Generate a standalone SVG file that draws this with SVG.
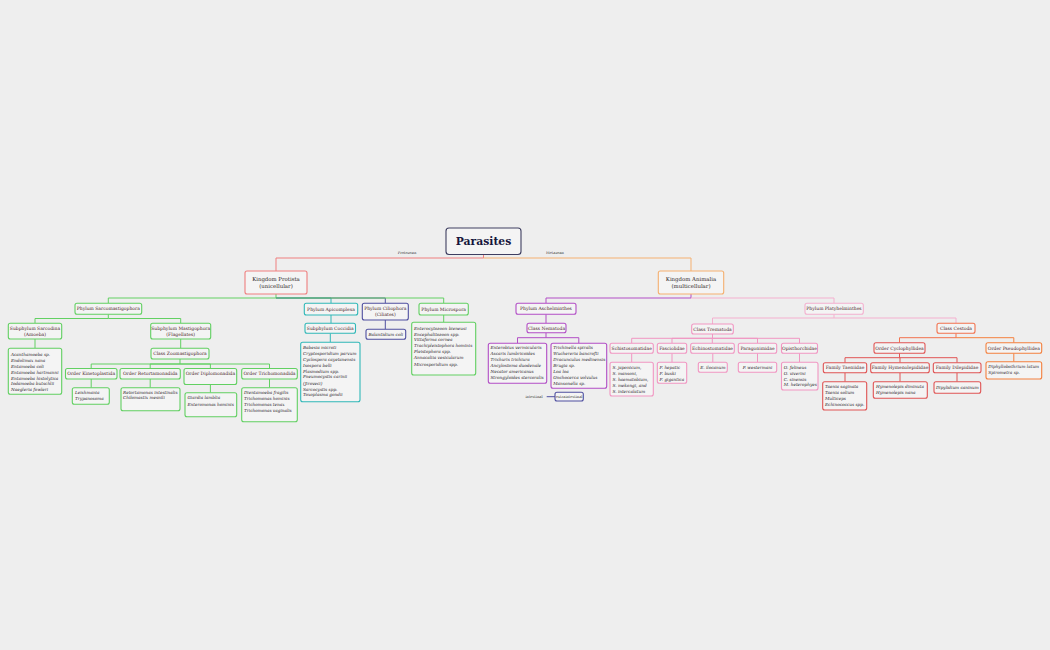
<svg xmlns="http://www.w3.org/2000/svg" width="1050" height="650" viewBox="0 0 1050 650">
<style>
.bx{fill:#f4f4f4;stroke-width:1.1}
.c{fill:none;stroke-width:1}
.red{stroke:#ef7f7f}.org{stroke:#f5b070}.grn{stroke:#62d062}.tea{stroke:#30b8b8}.nav{stroke:#4f4fa0}
.pur{stroke:#b24ec6}.lpk{stroke:#f4b0cf}.pnk{stroke:#f196c2}.ces{stroke:#f2724e}.cyc{stroke:#e05454}.pse{stroke:#f4803e}
text{font-family:"DejaVu Serif","Liberation Serif",serif}
.t{font-size:4.5px;fill:#4a1f2a;text-anchor:middle}
.k{font-size:5.4px;fill:#2e2626;text-anchor:middle}
.i{font-size:4.2px;fill:#2a1c2a;font-style:italic}
.ic{font-size:4.2px;fill:#2a1c2a;font-style:italic;text-anchor:middle}
.e{font-size:3.6px;fill:#333;text-anchor:middle}
</style>
<rect width="1050" height="650" fill="#eeeeee"/>
<g id="connectors">
<path class="c red" d="M483.5 254.5V258H276V271"/>
<path class="c org" d="M483.5 258H691V271"/>
<path class="c grn" d="M276 294V298H108.3V303.3"/>
<path class="c tea" d="M276 298H331V303.3"/>
<path class="c nav" d="M276 298H385.3V303.3"/>
<path class="c grn" d="M276 298H443.7V303.3"/>
<path class="c grn" d="M108.3 314.3V318.5H35V323.3M108.3 318.5H180.7V323.3"/>
<path class="c grn" d="M35 339V348.3"/>
<path class="c grn" d="M180.7 339V348.3"/>
<path class="c grn" d="M180 359V364H91.2V368.5M180 364H150.2V368.5M180 364H210.4V368.5M180 364H269.5V368.5"/>
<path class="c grn" d="M91.2 379V387.7M150.2 379V387.7M210.4 384.5V392.7M269.5 379V387.7"/>
<path class="c tea" d="M331 315V323.3M330.3 333.3V342.3"/>
<path class="c nav" d="M385.3 320V329.3"/>
<path class="c grn" d="M443.7 315V322.3"/>
<path class="c pur" d="M691 294V298H546V303.3"/>
<path class="c lpk" d="M691 298H834V303.3"/>
<path class="c pur" d="M546 314.3V323.3M546 332.8V337.7H517.5V343.3M546 337.7H578.8V343.3"/>
<path class="c lpk" d="M834 314.3V318H712.5V324M834 318H956V323.3"/>
<path class="c pnk" d="M712.5 334V338.3H631.7V343.3M712.5 338.3H672V343.3M712.5 338.3H712.3V343.3M712.5 338.3H757.5V343.3M712.5 338.3H799.5V343.3"/>
<path class="c pnk" d="M631.7 353.3V362.3M672 353.3V362.3M712.8 353.3V362.3M757.5 353.3V362.3M799.5 353.3V362.3"/>
<path class="c ces" d="M956 333.3V337.7H899.5V342.7"/>
<path class="c pse" d="M956 337.7H1013.8V342.7M1013.8 353.3V361.7"/>
<path class="c cyc" d="M899.5 353.3V357.7H845V362.7M899.5 357.7H900V362.7M899.5 357.7H957V362.7"/>
<path class="c cyc" d="M845 372.7V381.7M900 372.7V381.7M957 372.7V381.7"/>
<path class="c nav" d="M546.7 396.7H555"/>
</g>
<g id="root"><rect class="bx" x="446" y="228" width="75" height="26.5" rx="3" stroke="#3e3e60" stroke-width="1.2"/><text x="483.5" y="244.7" text-anchor="middle" font-size="10.8" font-weight="bold" fill="#16163c" style="font-family:'DejaVu Serif',serif">Parasites</text></g>
<g id="lbl-protozoan"><text class="e" x="407" y="254.2">Protozoan</text></g>
<g id="lbl-metazoan"><text class="e" x="555" y="254.2">Metazoan</text></g>
<g id="kingdom-protista"><rect class="bx red" x="245" y="271" width="62" height="23" rx="2"/><text class="k" x="276" y="280.5">Kingdom Protista</text><text class="k" x="276" y="288">(unicellular)</text></g>
<g id="kingdom-animalia"><rect class="bx org" x="658.3" y="271" width="65.4" height="23" rx="2"/><text class="k" x="691" y="280.5">Kingdom Animalia</text><text class="k" x="691" y="288">(multicellular)</text></g>
<g id="ph-sarco"><rect class="bx grn" x="75" y="303.3" width="66.7" height="11" rx="2"/><text class="t" x="108.3" y="310.4">Phylum Sarcomastigophora</text></g>
<g id="ph-apic"><rect class="bx tea" x="304.3" y="303.3" width="53.4" height="11.7" rx="2"/><text class="t" x="331" y="310.7">Phylum Apicomplexa</text></g>
<g id="ph-cilio"><rect class="bx nav" x="362.3" y="303.3" width="46" height="16.7" rx="2"/><text class="t" x="385.3" y="310.1">Phylum Ciliophora</text><text class="t" x="385.3" y="316.1">(Ciliates)</text></g>
<g id="ph-micro"><rect class="bx grn" x="419" y="303.3" width="49.3" height="11.7" rx="2"/><text class="t" x="443.7" y="310.7">Phylum Microspora</text></g>
<g id="ph-asch"><rect class="bx pur" x="516" y="303.3" width="60" height="11" rx="2"/><text class="t" x="546" y="310.4">Phylum Aschelminthes</text></g>
<g id="ph-platy"><rect class="bx lpk" x="805" y="303.3" width="58.3" height="11" rx="2"/><text class="t" x="834" y="310.4">Phylum Platyhelminthes</text></g>
<g id="sub-sarcodina"><rect class="bx grn" x="8.3" y="323.3" width="53.4" height="15.7" rx="2"/><text class="t" x="35" y="330.1">Subphylum Sarcodina</text><text class="t" x="35" y="336.1">(Amoeba)</text></g>
<g id="sub-mastig"><rect class="bx grn" x="150.7" y="323.3" width="60" height="15.7" rx="2"/><text class="t" x="180.7" y="330.1">Subphylum Mastigophora</text><text class="t" x="180.7" y="336.1">(Flagellates)</text></g>
<g id="sarcodina-list"><rect class="bx grn" x="8.3" y="348.3" width="53.4" height="46" rx="2"/><text class="i"><tspan x="11" y="355.8">Acanthamoeba sp.</tspan><tspan x="11" y="361.8">Endolimax nana</tspan><tspan x="11" y="367.8">Entamoeba coli</tspan><tspan x="11" y="373.8">Entamoeba hartmanni</tspan><tspan x="11" y="379.6">Entamoeba histolytica</tspan><tspan x="11" y="385.3">Iodamoeba butschlii</tspan><tspan x="11" y="391.2">Naegleria fowleri</tspan></text></g>
<g id="cl-zoomast"><rect class="bx grn" x="151" y="348.3" width="58" height="10.7" rx="2"/><text class="t" x="180" y="355.2">Class Zoomastigophora</text></g>
<g id="or-kineto"><rect class="bx grn" x="65.5" y="368.5" width="51.5" height="10.5" rx="2"/><text class="t" x="91.2" y="375.3">Order Kinetoplastida</text></g>
<g id="or-retort"><rect class="bx grn" x="120" y="368.5" width="60.3" height="10.5" rx="2"/><text class="t" x="150.2" y="375.3">Order Retortamonadida</text></g>
<g id="or-diplo"><rect class="bx grn" x="184" y="368.5" width="52.7" height="16" rx="2"/><text class="t" x="210.4" y="375.1">Order Diplomonadida</text></g>
<g id="or-tricho"><rect class="bx grn" x="241.7" y="368.5" width="55.6" height="10.5" rx="2"/><text class="t" x="269.5" y="375.3">Order Trichomonadida</text></g>
<g id="kineto-list"><rect class="bx grn" x="72.3" y="387.7" width="37" height="16.6" rx="2"/><text class="i"><tspan x="75" y="394.2">Leishmania</tspan><tspan x="75" y="399.8">Trypanosoma</tspan></text></g>
<g id="retort-list"><rect class="bx grn" x="121" y="387.7" width="59" height="23" rx="2"/><text class="i"><tspan x="123" y="393.8">Retortamonas intestinalis</tspan><tspan x="123" y="399.2">Chilomastix mesnili</tspan></text></g>
<g id="diplo-list"><rect class="bx grn" x="185" y="392.7" width="51.7" height="24" rx="2"/><text class="i"><tspan x="187.5" y="399.2">Giardia lamblia</tspan><tspan x="187.5" y="405.5">Enteromonas hominis</tspan></text></g>
<g id="tricho-list"><rect class="bx grn" x="241.7" y="387.7" width="55.6" height="34" rx="2"/><text class="i"><tspan x="244" y="394.2">Dientamoeba fragilis</tspan><tspan x="244" y="400.2">Trichomonas hominis</tspan><tspan x="244" y="405.8">Trichomonas tenax</tspan><tspan x="244" y="411.8">Trichomonas vaginalis</tspan></text></g>
<g id="sub-coccidia"><rect class="bx tea" x="305" y="323.3" width="50.5" height="10" rx="2"/><text class="t" x="330.3" y="329.9">Subphylum Coccidia</text></g>
<g id="coccidia-list"><rect class="bx tea" x="300.7" y="342.3" width="59.3" height="59.4" rx="2"/><text class="i"><tspan x="303" y="348.8">Babesia microti</tspan><tspan x="303" y="355.2">Cryptosporidium parvum</tspan><tspan x="303" y="361.2">Cyclospora cayetanensis</tspan><tspan x="303" y="367.2">Isospora belli</tspan><tspan x="303" y="372.8">Plasmodium spp.</tspan><tspan x="303" y="378.2">Pneumocystis carinii</tspan><tspan x="303" y="384.8">(Jiroveci)</tspan><tspan x="303" y="390.5">Sarcocystis spp.</tspan><tspan x="303" y="396.2">Toxoplasma gondii</tspan></text></g>
<g id="balantidium"><rect class="bx nav" x="366" y="329.3" width="39.7" height="10" rx="2"/><text class="ic" x="385.8" y="335.8">Balantidium coli</text></g>
<g id="microspora-list"><rect class="bx grn" x="411.7" y="322.3" width="64" height="52.7" rx="2"/><text class="i"><tspan x="414" y="329.8">Enterocytozoon bieneusi</tspan><tspan x="414" y="335.8">Encephalitozoon spp.</tspan><tspan x="414" y="341.2">Vittaforma cornea</tspan><tspan x="414" y="347.2">Trachipleistophora hominis</tspan><tspan x="414" y="353.2">Pleistophora spp.</tspan><tspan x="414" y="359.2">Annacaliia vesicularum</tspan><tspan x="414" y="365.5">Microsporidium spp.</tspan></text></g>
<g id="cl-nematoda"><rect class="bx pur" x="527" y="323.3" width="39" height="9.5" rx="2"/><text class="t" x="546.5" y="329.6">Class Nematoda</text></g>
<g id="nematoda-intestinal"><rect class="bx pur" x="488.3" y="343.3" width="58.4" height="40" rx="2"/><text class="i"><tspan x="490.5" y="349.2">Enterobius vermicularis</tspan><tspan x="490.5" y="355.2">Ascaris lumbricoides</tspan><tspan x="490.5" y="361.2">Trichuris trichiura</tspan><tspan x="490.5" y="367.2">Ancylostoma duodenale</tspan><tspan x="490.5" y="372.8">Necator americanus</tspan><tspan x="490.5" y="378.5">Strongyloides stercoralis</tspan></text></g>
<g id="nematoda-extra"><rect class="bx pur" x="551" y="343.3" width="55.7" height="45" rx="2"/><text class="i"><tspan x="553.3" y="349.2">Trichinella spiralis</tspan><tspan x="553.3" y="355.2">Wuchereria bancrofti</tspan><tspan x="553.3" y="361.2">Dracunculus medinensis</tspan><tspan x="553.3" y="367.2">Brugia sp.</tspan><tspan x="553.3" y="372.8">Loa loa</tspan><tspan x="553.3" y="378.5">Onchocerca volvulus</tspan><tspan x="553.3" y="384.5">Mansonella sp.</tspan></text></g>
<g id="legend-intestinal"><text class="e" x="534" y="398">intestinal</text></g>
<g id="legend-extra"><rect class="bx nav" x="555" y="392.3" width="28.3" height="8.7" rx="2"/><text class="e" x="569.2" y="398">extraintestinal</text></g>
<g id="cl-trematoda"><rect class="bx pnk" x="691.7" y="324" width="41.6" height="10" rx="2"/><text class="t" x="712.5" y="330.6">Class Trematoda</text></g>
<g id="schisto"><rect class="bx pnk" x="610" y="343.3" width="43.3" height="10" rx="2"/><text class="t" x="631.7" y="349.9">Schistosomatidae</text></g>
<g id="fasciol"><rect class="bx pnk" x="657.3" y="343.3" width="29.4" height="10" rx="2"/><text class="t" x="672" y="349.9">Fasciolidae</text></g>
<g id="echino"><rect class="bx pnk" x="690.7" y="343.3" width="43.6" height="10" rx="2"/><text class="t" x="712.5" y="349.9">Echinostomatidae</text></g>
<g id="parago"><rect class="bx pnk" x="738.3" y="343.3" width="38.4" height="10" rx="2"/><text class="t" x="757.5" y="349.9">Paragonimidae</text></g>
<g id="opist"><rect class="bx pnk" x="781.5" y="343.3" width="36" height="10" rx="2"/><text class="t" x="799.5" y="349.9">Opisthorchidae</text></g>
<g id="schisto-list"><rect class="bx pnk" x="610" y="362.3" width="43.3" height="33.7" rx="2"/><text class="i"><tspan x="612.5" y="369.2">S. japonicum,</tspan><tspan x="612.5" y="375.2">S. mansoni,</tspan><tspan x="612.5" y="380.8">S. haematobium,</tspan><tspan x="612.5" y="386.8">S. mekongi, and</tspan><tspan x="612.5" y="392.8">S. intercalatum</tspan></text></g>
<g id="fasciol-list"><rect class="bx pnk" x="657.3" y="362.3" width="29.4" height="21" rx="2"/><text class="i"><tspan x="659.5" y="369.2">F. hepatic</tspan><tspan x="659.5" y="375">F. buski</tspan><tspan x="659.5" y="380.8">F. gigantica</tspan></text></g>
<g id="echino-list"><rect class="bx pnk" x="698.3" y="362.3" width="29" height="10" rx="2"/><text class="ic" x="712.8" y="368.8">E. ilocanum</text></g>
<g id="parago-list"><rect class="bx pnk" x="738.3" y="362.3" width="38.4" height="10" rx="2"/><text class="ic" x="757.5" y="368.8">P. westermani</text></g>
<g id="opist-list"><rect class="bx pnk" x="781.5" y="362.3" width="36.5" height="27.7" rx="2"/><text class="i"><tspan x="783.8" y="369">O. felineus</tspan><tspan x="783.8" y="374.8">O. viverini</tspan><tspan x="783.8" y="380.6">C. sinensis</tspan><tspan x="783.8" y="386.4">M. heterophyes</tspan></text></g>
<g id="cl-cestoda"><rect class="bx ces" x="937" y="323.3" width="38" height="10" rx="2"/><text class="t" x="956" y="329.9">Class Cestoda</text></g>
<g id="or-cyclo"><rect class="bx cyc" x="874" y="342.7" width="51" height="10.6" rx="2"/><text class="t" x="899.5" y="349.6">Order Cyclophyllidea</text></g>
<g id="or-pseudo"><rect class="bx pse" x="986" y="342.7" width="55.7" height="10.6" rx="2"/><text class="t" x="1013.8" y="349.6">Order Pseudophyllidea</text></g>
<g id="pseudo-list"><rect class="bx pse" x="986" y="361.7" width="55.7" height="17.3" rx="2"/><text class="i"><tspan x="988.3" y="368.2">Diphyllobothrium latum</tspan><tspan x="988.3" y="374.2">Spirometra sp.</tspan></text></g>
<g id="fam-taen"><rect class="bx cyc" x="823.3" y="362.7" width="43.4" height="10" rx="2"/><text class="t" x="845" y="369.3">Family Taeniidae</text></g>
<g id="fam-hymen"><rect class="bx cyc" x="870.7" y="362.7" width="58.6" height="10" rx="2"/><text class="t" x="900" y="369.3">Family Hymenolepididae</text></g>
<g id="fam-dilep"><rect class="bx cyc" x="933.3" y="362.7" width="47.7" height="10" rx="2"/><text class="t" x="957" y="369.3">Family Dilepididae</text></g>
<g id="taen-list"><rect class="bx cyc" x="822.7" y="381.7" width="44" height="28.3" rx="2"/><text class="i"><tspan x="825" y="388.2">Taenia saginata</tspan><tspan x="825" y="394.2">Taenia solium</tspan><tspan x="825" y="400.2">Multiceps</tspan><tspan x="825" y="405.8">Echinococcus spp.</tspan></text></g>
<g id="hymen-list"><rect class="bx cyc" x="873.3" y="381.7" width="54" height="16.6" rx="2"/><text class="i"><tspan x="876" y="388.2">Hymenolepis diminuta</tspan><tspan x="876" y="394.2">Hymenolepis nana</tspan></text></g>
<g id="dilep-list"><rect class="bx cyc" x="934" y="381.7" width="46.7" height="11.6" rx="2"/><text class="ic" x="957.3" y="388.8">Dipylidium caninum</text></g>
</svg>
